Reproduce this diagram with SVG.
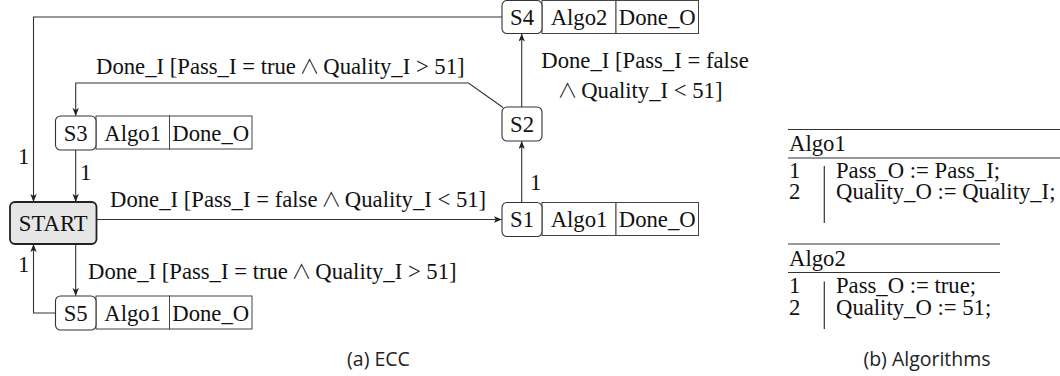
<svg xmlns="http://www.w3.org/2000/svg" width="1060" height="376" viewBox="0 0 1060 376">
<defs>
<style>
.t{font-family:"Liberation Serif","Times New Roman",serif;font-size:22.7px;fill:#111}
.w{font-family:"Noto Sans CJK JP","DejaVu Sans",sans-serif;font-weight:300;font-size:20px}
.c{font-family:"Open Sans","Liberation Sans",sans-serif;font-size:19.5px;fill:#222}
.st{fill:#fff;stroke:#333;stroke-width:1.1}
.cell{fill:#fff;stroke:#444;stroke-width:1}
.start{fill:#e6e6e6;stroke:#222;stroke-width:1.8}
.e{fill:none;stroke:#333;stroke-width:1.1}
.r{stroke:#333;stroke-width:1.2}
</style>
<marker id="ah" viewBox="0 0 10 8" refX="9.5" refY="4" markerWidth="8" markerHeight="6.4" orient="auto" markerUnits="userSpaceOnUse">
<path d="M0,0 L10,4 L0,8 L2.5,4 z" fill="#222"/>
</marker>
</defs>
<rect width="1060" height="376" fill="#fff"/>

<g id="connectors">
<path class="e" d="M502,17 H33.5 V201.5" marker-end="url(#ah)"/>
<path class="e" d="M503,107.5 L468.5,83 H75.7 V115.5" marker-end="url(#ah)"/>
<path class="e" d="M75.7,150 V201.5" marker-end="url(#ah)"/>
<path class="e" d="M96.5,219.5 H501.5" marker-end="url(#ah)"/>
<path class="e" d="M521.7,202.5 V141.5" marker-end="url(#ah)"/>
<path class="e" d="M521.7,107 V34" marker-end="url(#ah)"/>
<path class="e" d="M75.7,244 V295.5" marker-end="url(#ah)"/>
<path class="e" d="M55.5,313 H33.5 V244.5" marker-end="url(#ah)"/>
<text class="t" x="18" y="164">1</text>
<text class="t" x="96" y="74">Done_I [Pass_I = true <tspan class="w" dx="-2">∧</tspan><tspan dx="-2"> Quality_I &gt; 51]</tspan></text>
<text class="t" x="80" y="180">1</text>
<text class="t" x="110" y="207">Done_I [Pass_I = false <tspan class="w" dx="-2">∧</tspan><tspan dx="-2"> Quality_I &lt; 51]</tspan></text>
<text class="t" x="530" y="190">1</text>
<text class="t" x="645" y="68" text-anchor="middle">Done_I [Pass_I = false</text>
<text class="t" x="640" y="98" text-anchor="middle"><tspan class="w">∧</tspan><tspan dx="-2"> Quality_I &lt; 51]</tspan></text>
<text class="t" x="88" y="279">Done_I [Pass_I = true <tspan class="w" dx="-2">∧</tspan><tspan dx="-2"> Quality_I &gt; 51]</tspan></text>
<text class="t" x="18" y="272">1</text>
</g>

<g id="START">
<rect class="start" x="10" y="202" width="86.5" height="42" rx="5"/>
<text class="t" x="53.2" y="230.5" text-anchor="middle">START</text>
</g>

<g id="S3">
<rect class="cell" x="96" y="116" width="73.5" height="33"/>
<rect class="cell" x="169.5" y="116" width="82.5" height="33"/>
<rect class="st" x="55.5" y="116" width="40.5" height="34" rx="5"/>
<text class="t" x="75.7" y="140.5" text-anchor="middle">S3</text>
<text class="t" x="132.7" y="140.5" text-anchor="middle">Algo1</text>
<text class="t" x="210.7" y="140.5" text-anchor="middle">Done_O</text>
</g>

<g id="S5">
<rect class="cell" x="96" y="296" width="73.5" height="33"/>
<rect class="cell" x="169.5" y="296" width="82.5" height="33"/>
<rect class="st" x="55.5" y="296" width="40.5" height="34" rx="5"/>
<text class="t" x="75.7" y="320.5" text-anchor="middle">S5</text>
<text class="t" x="132.7" y="320.5" text-anchor="middle">Algo1</text>
<text class="t" x="210.7" y="320.5" text-anchor="middle">Done_O</text>
</g>

<g id="S1">
<rect class="cell" x="542" y="202.5" width="74" height="33"/>
<rect class="cell" x="616" y="202.5" width="82.5" height="33"/>
<rect class="st" x="502" y="202.5" width="40" height="34" rx="5"/>
<text class="t" x="522" y="227" text-anchor="middle">S1</text>
<text class="t" x="579" y="227" text-anchor="middle">Algo1</text>
<text class="t" x="657.2" y="227" text-anchor="middle">Done_O</text>
</g>

<g id="S2">
<rect class="st" x="502" y="107" width="40" height="34" rx="5"/>
<text class="t" x="522" y="131.5" text-anchor="middle">S2</text>
</g>

<g id="S4">
<rect class="cell" x="542" y="0.5" width="74" height="33"/>
<rect class="cell" x="616" y="0.5" width="82.5" height="33"/>
<rect class="st" x="502" y="0.5" width="40" height="33" rx="5"/>
<text class="t" x="522" y="25" text-anchor="middle">S4</text>
<text class="t" x="579" y="25" text-anchor="middle">Algo2</text>
<text class="t" x="657.2" y="25" text-anchor="middle">Done_O</text>
</g>

<g id="Algo1">
<line class="r" x1="788" y1="129.5" x2="1060" y2="129.5"/>
<text class="t" x="789" y="151">Algo1</text>
<line class="r" x1="788" y1="158" x2="1060" y2="158"/>
<text class="t" x="789" y="178">1</text>
<text class="t" x="789" y="198.5">2</text>
<line class="r" x1="824.3" y1="166" x2="824.3" y2="223"/>
<text class="t" x="836" y="178">Pass_O := Pass_I;</text>
<text class="t" x="836" y="198.5">Quality_O := Quality_I;</text>
</g>

<g id="Algo2">
<line class="r" x1="788" y1="244" x2="1000" y2="244"/>
<text class="t" x="789" y="266">Algo2</text>
<line class="r" x1="788" y1="272.5" x2="1000" y2="272.5"/>
<text class="t" x="789" y="293">1</text>
<text class="t" x="789" y="314.5">2</text>
<line class="r" x1="824.3" y1="281.5" x2="824.3" y2="329"/>
<text class="t" x="836" y="293">Pass_O := true;</text>
<text class="t" x="836" y="314.5">Quality_O := 51;</text>
</g>

<text class="c" x="378.5" y="366" text-anchor="middle">(a) ECC</text>
<text class="c" x="927" y="366" text-anchor="middle">(b) Algorithms</text>
</svg>
